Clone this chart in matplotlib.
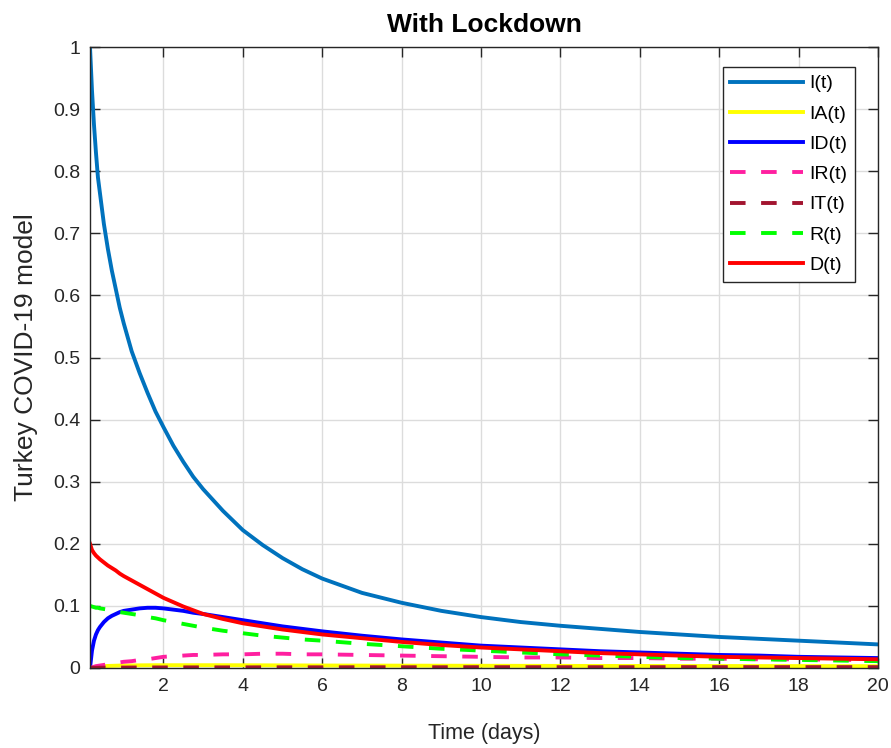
import matplotlib
matplotlib.use('Agg')
import matplotlib.pyplot as plt

plt.rcParams['font.family'] = ['Liberation Sans', 'DejaVu Sans']

# time points (days) and values
t = [0.15, 0.2, 0.25, 0.3, 0.35, 0.4, 0.5, 0.6, 0.7, 0.8, 0.9, 1.0, 1.2, 1.4, 1.6, 1.8,
     2.0, 2.25, 2.5, 2.75, 3.0, 3.5, 4.0, 4.5, 5.0, 5.5, 6.0, 7.0, 8.0, 9.0, 10.0,
     11.0, 12.0, 13.0, 14.0, 15.0, 16.0, 17.0, 18.0, 19.0, 20.0]

I = [1.0, 0.93, 0.875, 0.83, 0.79, 0.765, 0.715, 0.675, 0.64, 0.61, 0.58, 0.555, 0.51, 0.475, 0.443, 0.413,
     0.388, 0.358, 0.332, 0.308, 0.288, 0.253, 0.222, 0.198, 0.177, 0.159, 0.144, 0.121, 0.105, 0.092, 0.082,
     0.074, 0.068, 0.063, 0.058, 0.054, 0.050, 0.047, 0.044, 0.041, 0.038]
IA = [0.0, 0.001, 0.0015, 0.002, 0.0025, 0.0028, 0.003, 0.0033, 0.0035, 0.0037, 0.0039, 0.004, 0.0042, 0.0043, 0.0044, 0.0045,
      0.0045, 0.0045, 0.0045, 0.0045, 0.0045, 0.0045, 0.0044, 0.0043, 0.0042, 0.0041, 0.004, 0.0039, 0.0038, 0.0037, 0.0036,
      0.0035, 0.0034, 0.0033, 0.0033, 0.0032, 0.0032, 0.0031, 0.0031, 0.003, 0.003]
ID = [0.0, 0.028, 0.044, 0.054, 0.061, 0.066, 0.074, 0.080, 0.084, 0.087, 0.090, 0.092, 0.094, 0.096, 0.097, 0.097,
      0.096, 0.094, 0.092, 0.089, 0.087, 0.082, 0.077, 0.072, 0.067, 0.063, 0.059, 0.052, 0.046, 0.041, 0.036,
      0.033, 0.030, 0.027, 0.025, 0.023, 0.021, 0.020, 0.018, 0.017, 0.016]
IR = [0.0, 0.001, 0.002, 0.003, 0.0035, 0.004, 0.005, 0.006, 0.007, 0.008, 0.009, 0.010, 0.011, 0.013, 0.014, 0.016,
      0.018, 0.019, 0.020, 0.021, 0.021, 0.022, 0.022, 0.023, 0.023, 0.022, 0.022, 0.021, 0.020, 0.019, 0.018,
      0.017, 0.017, 0.016, 0.016, 0.015, 0.015, 0.014, 0.014, 0.013, 0.013]
IT = [0.0, 0.0002, 0.0003, 0.0004, 0.0004, 0.0005, 0.0005, 0.0006, 0.0006, 0.0007, 0.0007, 0.0007, 0.0008, 0.0008, 0.0008, 0.0009,
      0.0009, 0.0009, 0.001, 0.001, 0.001, 0.001, 0.001, 0.0011, 0.0011, 0.0011, 0.0011, 0.0012, 0.0012, 0.0012, 0.0013,
      0.0013, 0.0013, 0.0013, 0.0013, 0.0014, 0.0014, 0.0014, 0.0014, 0.0014, 0.0014]
R = [0.100, 0.099, 0.098, 0.097, 0.097, 0.096, 0.095, 0.094, 0.093, 0.092, 0.090, 0.089, 0.087, 0.085, 0.082, 0.080,
     0.077, 0.074, 0.071, 0.068, 0.065, 0.060, 0.056, 0.052, 0.049, 0.046, 0.044, 0.039, 0.035, 0.031, 0.028,
     0.025, 0.022, 0.020, 0.018, 0.016, 0.015, 0.014, 0.013, 0.012, 0.011]
D = [0.200, 0.190, 0.185, 0.181, 0.178, 0.175, 0.170, 0.165, 0.161, 0.157, 0.152, 0.148, 0.141, 0.134, 0.127, 0.120,
     0.113, 0.106, 0.099, 0.093, 0.087, 0.079, 0.072, 0.067, 0.062, 0.058, 0.054, 0.048, 0.042, 0.037, 0.033,
     0.030, 0.027, 0.024, 0.022, 0.020, 0.018, 0.017, 0.016, 0.015, 0.014]

xticks = [2, 4, 6, 8, 10, 12, 14, 16, 18, 20]
yticks = [0, 0.1, 0.2, 0.3, 0.4, 0.5, 0.6, 0.7, 0.8, 0.9, 1]
ytick_labels = ['0', '0.1', '0.2', '0.3', '0.4', '0.5', '0.6', '0.7', '0.8', '0.9', '1']

fig = plt.figure(figsize=(8.91, 7.48), dpi=100)
ax = fig.add_axes([90 / 891, 1 - 668 / 748, 788 / 891, 621 / 748])

lw = 2.8
dash = (4, 4)
ax.plot(t, I, color='#0072BD', lw=lw, label='I(t)')
ax.plot(t, IA, color='#ffff00', lw=lw, label='IA(t)')
ax.plot(t, ID, color='#0000ff', lw=lw, label='ID(t)')
ax.plot(t, IR, color='#ff1fa0', lw=lw, dashes=dash, label='IR(t)')
ax.plot(t, IT, color='#A2142F', lw=lw, dashes=dash, label='IT(t)')
ax.plot(t, R, color='#00ff00', lw=lw, dashes=dash, label='R(t)')
ax.plot(t, D, color='#ff0000', lw=lw, label='D(t)')

ax.set_xlim(0.15, 20)
ax.set_ylim(0, 1)
ax.set_xticks(xticks)
ax.set_yticks(yticks)
ax.set_yticklabels(ytick_labels)
ax.grid(True, color='#dcdcdc', lw=1)
ax.set_axisbelow(True)
ax.tick_params(direction='in', top=True, right=True, length=7, width=1,
               labelsize=14, colors='#262626', pad=7)
for s in ax.spines.values():
    s.set_color('#262626')
    s.set_linewidth(1)

ax.set_title('With Lockdown', fontsize=19, fontweight='bold', pad=11)
ax.set_xlabel('Time (days)', fontsize=15.5, color='#262626', labelpad=20)
ax.set_ylabel('Turkey COVID-19 model', fontsize=19, color='#262626', labelpad=11)

leg = ax.legend(loc='upper right', bbox_to_anchor=(765 / 788, 601 / 621), borderaxespad=0,
                fontsize=14, handlelength=3.75, handletextpad=0.3, labelspacing=0.65,
                fancybox=False, framealpha=1, edgecolor='#262626', borderpad=0.4)
leg.get_frame().set_linewidth(1)

fig.savefig('out.png', dpi=100)
